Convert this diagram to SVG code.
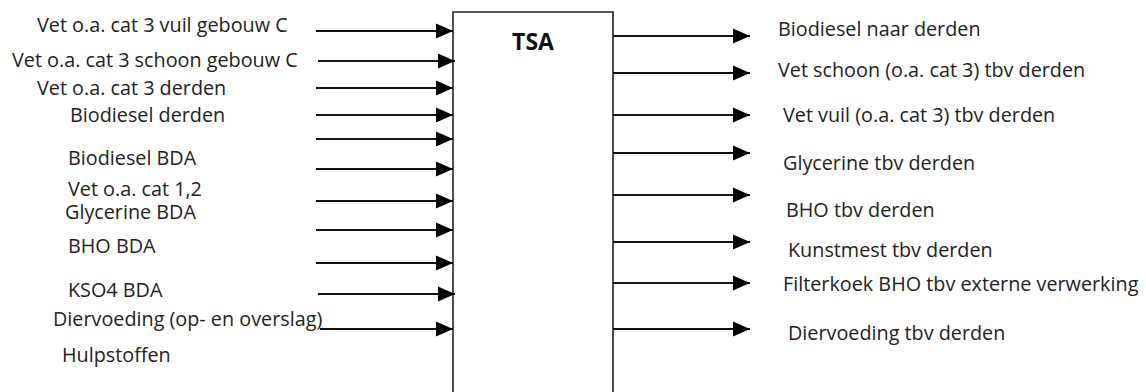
<svg xmlns="http://www.w3.org/2000/svg" width="1146" height="392" viewBox="0 0 1146 392">
  <style>
    .lbl { font-family: "Open Sans", "Liberation Sans", sans-serif; font-size: 19.8px; fill: #222; }
    .title { font-family: "Open Sans", "Liberation Sans", sans-serif; font-size: 23px; font-weight: bold; fill: #111; }
    .flow { stroke: #111; stroke-width: 2; fill: none; marker-end: url(#head); }
    .box { stroke: #222; stroke-width: 1.6; fill: #fff; }
  </style>
  <defs>
    <marker id="head" markerUnits="userSpaceOnUse" markerWidth="18" markerHeight="16" refX="17" refY="8" orient="auto">
      <path d="M0,0.5 L17,8 L0,15.5 Z" fill="#000"/>
    </marker>
  </defs>
  <rect width="1146" height="392" fill="#fff"/>

  <!-- central process block (runs past the bottom edge) -->
  <g id="node-tsa">
    <path class="box" d="M453,394 V12 H613 V394"/>
    <text class="title" x="533" y="50" text-anchor="middle">TSA</text>
  </g>

  <!-- incoming and outgoing flows -->
  <g id="connectors">
    <line class="flow" x1="316" y1="31" x2="453" y2="31"/>
    <line class="flow" x1="318" y1="61" x2="455" y2="61"/>
    <line class="flow" x1="316" y1="88" x2="453" y2="88"/>
    <line class="flow" x1="316" y1="115" x2="453" y2="115"/>
    <line class="flow" x1="316" y1="139" x2="453" y2="139"/>
    <line class="flow" x1="316" y1="169" x2="453" y2="169"/>
    <line class="flow" x1="316" y1="201" x2="453" y2="201"/>
    <line class="flow" x1="316" y1="230" x2="453" y2="230"/>
    <line class="flow" x1="316" y1="263" x2="453" y2="263"/>
    <line class="flow" x1="318" y1="294" x2="455" y2="294"/>
    <line class="flow" x1="320" y1="329" x2="453" y2="329"/>

    <line class="flow" x1="613" y1="36" x2="750" y2="36"/>
    <line class="flow" x1="613" y1="73" x2="750" y2="73"/>
    <line class="flow" x1="613" y1="115" x2="750" y2="115"/>
    <line class="flow" x1="613" y1="153" x2="750" y2="153"/>
    <line class="flow" x1="613" y1="195" x2="750" y2="195"/>
    <line class="flow" x1="613" y1="242" x2="750" y2="242"/>
    <line class="flow" x1="613" y1="283" x2="750" y2="283"/>
    <line class="flow" x1="613" y1="329" x2="750" y2="329"/>
  </g>

  <!-- input labels -->
  <g id="inputs">
    <text id="in-1" class="lbl" x="37" y="31.5">Vet o.a. cat 3 vuil gebouw C</text>
    <text id="in-2" class="lbl" x="12" y="66.5">Vet o.a. cat 3 schoon gebouw C</text>
    <text id="in-3" class="lbl" x="37" y="95">Vet o.a. cat 3 derden</text>
    <text id="in-4" class="lbl" x="70" y="121.5">Biodiesel derden</text>
    <text id="in-5" class="lbl" x="68" y="165">Biodiesel BDA</text>
    <text id="in-6" class="lbl" x="68" y="196">Vet o.a. cat 1,2</text>
    <text id="in-7" class="lbl" x="65" y="218.5">Glycerine BDA</text>
    <text id="in-8" class="lbl" x="68" y="253">BHO BDA</text>
    <text id="in-9" class="lbl" x="68" y="296.5">KSO4 BDA</text>
    <text id="in-10" class="lbl" x="53" y="326">Diervoeding (op- en overslag)</text>
    <text id="in-11" class="lbl" x="62" y="361.5">Hulpstoffen</text>
  </g>

  <!-- output labels -->
  <g id="outputs">
    <text id="out-1" class="lbl" x="778" y="35.5">Biodiesel naar derden</text>
    <text id="out-2" class="lbl" x="778" y="77">Vet schoon (o.a. cat 3) tbv derden</text>
    <text id="out-3" class="lbl" x="783" y="122">Vet vuil (o.a. cat 3) tbv derden</text>
    <text id="out-4" class="lbl" x="783" y="170">Glycerine tbv derden</text>
    <text id="out-5" class="lbl" x="786" y="217">BHO tbv derden</text>
    <text id="out-6" class="lbl" x="788" y="257">Kunstmest tbv derden</text>
    <text id="out-7" class="lbl" x="783" y="291">Filterkoek BHO tbv externe verwerking</text>
    <text id="out-8" class="lbl" x="788" y="340">Diervoeding tbv derden</text>
  </g>
</svg>
